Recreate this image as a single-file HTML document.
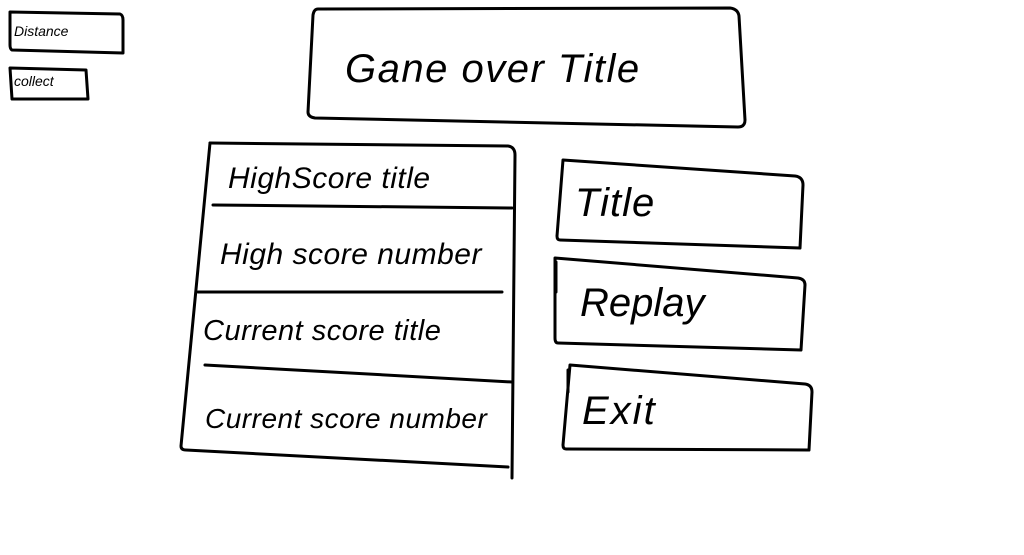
<!DOCTYPE html>
<html><head><meta charset="utf-8"><style>
html,body{margin:0;padding:0;background:#fff;}
svg{display:block;}
text{font-family:"Liberation Sans",sans-serif;fill:#000;font-style:italic;font-weight:300;}
</style></head><body>
<svg width="1024" height="555" viewBox="0 0 1024 555" xmlns="http://www.w3.org/2000/svg">
<rect width="1024" height="555" fill="#fff"/>
<g fill="none" stroke="#000" stroke-width="3" stroke-linecap="round" stroke-linejoin="round">
<path d="M10 12 L120 14 Q123 15 123 20 L123 53 L12 50 Q10 49 10 45 Z"/>
<path d="M10 68 L86 70 L88 99 L12 99 Z"/>
<path d="M318 9 L730 8 Q738 9 739 16 L745 120 Q745 127 738 127 L315 118 Q308 117 308 112 L313 15 Q314 9 318 9 Z"/>
<path d="M210 143 L508 146 Q515 147 515 155 L512 478"/>
<path d="M210 143 L181 446 Q181 450 186 450 L508 467"/>
<path d="M213 205 L512 208"/>
<path d="M198 292 L502 292"/>
<path d="M205 365 L512 382"/>
<path d="M563 160 L795 176 Q803 177 803 185 L800 248 L560 240 Q557 240 557 236 Z"/>
<path d="M555 258 L798 278 Q805 279 805 285 L801 350 L558 343 Q555 343 555 338 Z"/>
<path d="M556 262 L556 292"/>
<path d="M570 365 L805 384 Q812 385 812 392 L809 450 L566 449 Q563 449 563 445 Z"/>
<path d="M568 370 L568 392"/>
</g>
<text x="14" y="36" font-size="14">Distance</text>
<text x="14" y="86" font-size="14">collect</text>
<text x="345" y="82" font-size="40" letter-spacing="1.5">Gane over  Title</text>
<text x="228" y="188" font-size="30" letter-spacing="0.5">HighScore title</text>
<text x="220" y="264" font-size="30" letter-spacing="0.5">High score number</text>
<text x="203" y="340" font-size="29" letter-spacing="0.5">Current score title</text>
<text x="205" y="428" font-size="28" letter-spacing="0.5">Current score number</text>
<text x="575" y="216" font-size="40" letter-spacing="1">Title</text>
<text x="580" y="316" font-size="40">Replay</text>
<text x="582" y="424" font-size="40" letter-spacing="2">Exit</text>
</svg>
</body></html>
